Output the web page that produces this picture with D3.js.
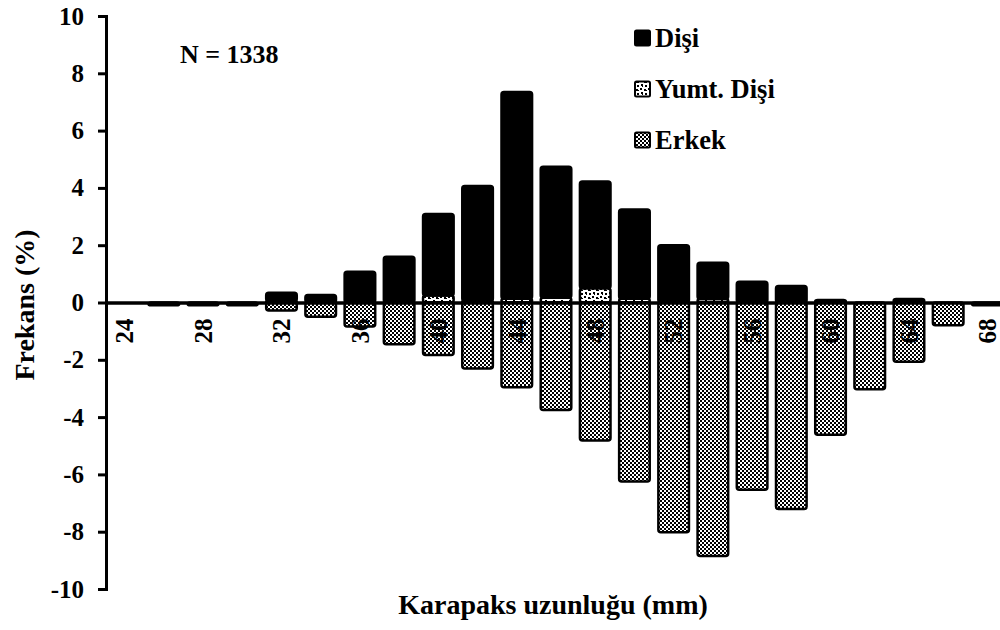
<!DOCTYPE html>
<html>
<head>
<meta charset="utf-8">
<script src="https://cdn.jsdelivr.net/npm/d3@7"></script>
<style>
  html, body { margin: 0; padding: 0; background: #fff; }
  svg { display: block; font-family: "Liberation Serif", "Times New Roman", serif; font-weight: bold; }
</style>
</head>
<body>
<svg id="chart" width="1000" height="630"></svg>
<script>
// ---- data ----
const categories = [24, 26, 28, 30, 32, 34, 36, 38, 40, 42, 44, 46, 48, 50, 52, 54, 56, 58, 60, 62, 64, 66, 68];
const disi      = [0, 0, 0, 0, 0.30, 0.26, 1.07, 1.60, 2.85, 4.02, 7.22, 4.57, 3.72, 3.12, 2.00, 1.27, 0.72, 0.58, 0.09, 0, 0.12, 0, 0];
const yumtDisi  = [0, 0, 0, 0, 0.04, 0, 0, 0, 0.24, 0.05, 0.13, 0.17, 0.50, 0.13, 0, 0.12, 0, 0, 0, 0, 0, 0, 0];
const erkek     = [0, -0.10, -0.10, -0.10, -0.28, -0.50, -0.84, -1.46, -1.83, -2.30, -2.96, -3.75, -4.82, -6.25, -8.02, -8.85, -6.54, -7.21, -4.62, -3.03, -2.07, -0.79, -0.10];
const yTicks = [-10, -8, -6, -4, -2, 0, 2, 4, 6, 8, 10];
const xTickLabels = [24, 28, 32, 36, 40, 44, 48, 52, 56, 60, 64, 68];
const seriesNames = ["Dişi", "Yumt. Dişi", "Erkek"];
const annotation = "N = 1338";
const xTitle = "Karapaks uzunluğu (mm)";
const yTitle = "Frekans (%)";

const svg = d3.select("#chart");

// patterns
const defs = svg.append("defs");
const pChk = defs.append("pattern").attr("id", "chk").attr("patternUnits", "userSpaceOnUse")
  .attr("width", 4).attr("height", 4);
pChk.append("rect").attr("width", 4).attr("height", 4).attr("fill", "#fff");
pChk.append("rect").attr("x", 0).attr("y", 0).attr("width", 2).attr("height", 2).attr("fill", "#000");
pChk.append("rect").attr("x", 2).attr("y", 2).attr("width", 2).attr("height", 2).attr("fill", "#000");

const pConf = defs.append("pattern").attr("id", "conf").attr("patternUnits", "userSpaceOnUse")
  .attr("width", 8).attr("height", 8);
pConf.append("rect").attr("width", 8).attr("height", 8).attr("fill", "#fff");
[[0,0,2,2],[4,1,2,2],[1,4,2,2],[5,5,2,2],[6,2,1,1],[2,6,1,1]].forEach(r =>
  pConf.append("rect").attr("x", r[0]).attr("y", r[1]).attr("width", r[2]).attr("height", r[3]).attr("fill", "#000"));

// scales
const x = d3.scaleBand().domain(categories).range([105, 1007]).paddingInner(0.22).paddingOuter(0.11);
const y = d3.scaleLinear().domain([-10, 10]).range([589, 16]);

// stacked data
const rows = categories.map((c, i) => ({ c, disi: disi[i], yumt: yumtDisi[i], erkek: erkek[i] }));
const segs = [];
rows.forEach(r => {
  if (r.yumt > 0) segs.push({ c: r.c, y0: 0, y1: r.yumt, fill: "url(#conf)" });
  if (r.disi > 0) segs.push({ c: r.c, y0: r.yumt, y1: r.yumt + r.disi, fill: "#000" });
  if (r.erkek < 0) segs.push({ c: r.c, y0: r.erkek, y1: 0, fill: "url(#chk)" });
});

svg.append("g").selectAll("rect").data(segs).join("rect")
  .attr("x", d => x(d.c))
  .attr("width", x.bandwidth())
  .attr("y", d => y(d.y1))
  .attr("height", d => y(d.y0) - y(d.y1))
  .attr("rx", 2.5)
  .attr("fill", d => d.fill)
  .attr("stroke", "#000")
  .attr("stroke-width", 2.5)
  .attr("stroke-linejoin", "round");

// y axis
const yAxis = svg.append("g").attr("transform", "translate(106,0)")
  .call(d3.axisLeft(y).tickValues(yTicks).tickFormat(d => String(d)).tickSize(8).tickSizeOuter(8).tickPadding(14));
yAxis.select(".domain").attr("stroke", "#000").attr("stroke-width", 3);
yAxis.selectAll(".tick line").attr("stroke", "#000").attr("stroke-width", 3);
yAxis.selectAll(".tick text").attr("font-size", 25).attr("font-family", "Liberation Serif").attr("font-weight", "bold").attr("fill", "#000");

// x axis at zero
const xAxis = svg.append("g").attr("transform", `translate(0,${y(0)})`)
  .call(d3.axisBottom(x).tickValues(xTickLabels).tickFormat(d => String(d)).tickSize(0).tickSizeOuter(0));
xAxis.select(".domain").attr("stroke", "#000").attr("stroke-width", 3.5);
xAxis.selectAll(".tick text")
  .attr("font-size", 25).attr("font-family", "Liberation Serif").attr("font-weight", "bold").attr("fill", "#000")
  .attr("transform", "translate(0,16) rotate(-90)")
  .attr("text-anchor", "end")
  .attr("x", 0).attr("y", 0).attr("dy", "0.35em");

// annotation
svg.append("text").attr("x", 180).attr("y", 63).attr("font-size", 26).attr("fill", "#000").text(annotation);

// legend
const legendFills = ["#000", "url(#conf)", "url(#chk)"];
const lg = svg.append("g");
seriesNames.forEach((n, i) => {
  const cy = 38 + i * 51;
  lg.append("rect").attr("x", 635).attr("y", cy - 7.5).attr("width", 15).attr("height", 15)
    .attr("rx", 1.5).attr("fill", legendFills[i]).attr("stroke", "#000").attr("stroke-width", 2);
  lg.append("text").attr("x", 655).attr("y", cy + 9).attr("font-size", 26.5).attr("fill", "#000").text(n);
});

// axis titles
svg.append("text").attr("x", 553).attr("y", 614).attr("text-anchor", "middle").attr("font-size", 28).attr("fill", "#000").text(xTitle);
svg.append("text").attr("transform", "translate(34,305) rotate(-90)").attr("text-anchor", "middle").attr("font-size", 28).attr("fill", "#000").text(yTitle);
</script>
</body>
</html>
